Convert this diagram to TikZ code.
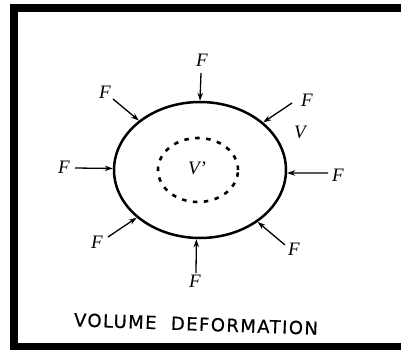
\documentclass[tikz,border=0pt]{standalone}
\usepackage{fontspec}
\setmainfont{Liberation Serif}
\newfontfamily\capfont[LetterSpace=8,FakeBold=0.6]{DejaVu Sans}
\usetikzlibrary{arrows.meta,shapes.geometric}
\tikzset{
  force/.style={line width=1.3pt,-{Stealth[length=8pt,width=5.5pt]}},
  flabel/.style={font=\fontsize{19}{19}\selectfont\itshape,inner sep=0pt},
  bar/.style={fill=black,draw=none},
}
\begin{document}
\begin{tikzpicture}[x=1pt,y=-1pt]
\useasboundingbox (0,0) rectangle (401,350);
\fill[white] (0,0) rectangle (401,350);
% frame bars
\fill[bar] (10,4) rectangle (401,12);
\fill[bar] (10,4) rectangle (18,350);
\fill[bar] (10,343) rectangle (401,350);
% body
\node[ellipse,draw,line width=2.5pt,minimum width=172pt,minimum height=136pt,inner sep=0pt] (e) at (200,170) {};
\node[ellipse,draw,line width=2.6pt,dash pattern=on 4.5pt off 6.5pt,minimum width=80pt,minimum height=64pt,inner sep=0pt] (d) at (198,170) {};
\node[flabel] (vp) at (197,168) {V'};
\node[flabel] (v) at (300,132) {V};
% start coordinates
\coordinate (sT) at (201,73);
\coordinate (sUL) at (113,99);
\coordinate (sUR) at (292,103);
\coordinate (sL) at (75,168);
\coordinate (sR) at (328,173);
\coordinate (sLL) at (108,237);
\coordinate (sLR) at (285,245);
\coordinate (sB) at (196,273);
% forces
\draw[force] (sT) -- (e.90);
\draw[force] (sUL) -- (e.141);
\draw[force] (sUR) -- (e.37);
\draw[force] (sL) -- (e.179);
\draw[force] (sR) -- (e.358);
\draw[force] (sLL) -- (e.217);
\draw[force] (sLR) -- (e.318);
\draw[force] (sB) -- (e.267);
% labels
\node[flabel] (fT) at (202,60) {F};
\node[flabel] (fUL) at (105,92) {F};
\node[flabel] (fUR) at (307,100) {F};
\node[flabel] (fL) at (64,167) {F};
\node[flabel] (fR) at (338,175) {F};
\node[flabel] (fLL) at (97,242) {F};
\node[flabel] (fLR) at (294,249) {F};
\node[flabel] (fB) at (195,281) {F};
% caption
\node[font=\capfont\fontsize{18}{18}\selectfont,inner sep=0pt,rotate=-2] (cap) at (196,324) {VOLUME\hspace{0.8em}DEFORMATION};
\end{tikzpicture}
\end{document}
